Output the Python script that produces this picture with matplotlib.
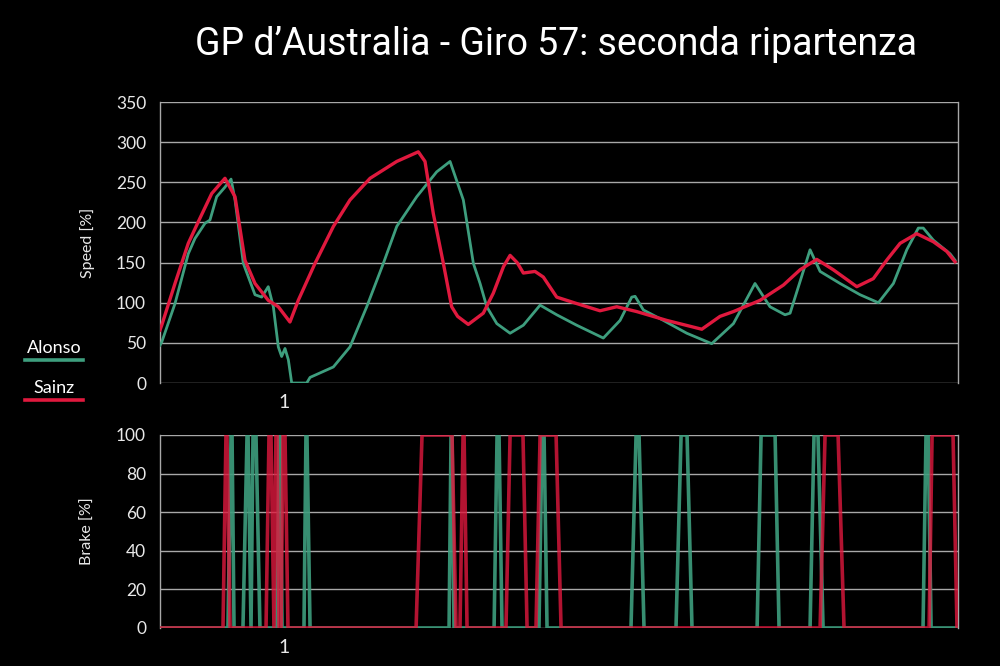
import matplotlib
matplotlib.use("Agg")
import matplotlib.pyplot as plt
from matplotlib.lines import Line2D

# ---------------- data ----------------
title = "GP d\u2019Australia - Giro 57: seconda ripartenza"
drivers = ["Alonso", "Sainz"]
colors = {"Alonso": "#3e9e7e", "Sainz": "#e0193e"}

# distance (lap units) and speed
sainz_x = [0.0, 0.014, 0.121, 0.228, 0.309, 0.417, 0.524, 0.605, 0.685, 0.766, 0.873, 0.954,
           1.048, 1.115, 1.250, 1.398, 1.532, 1.694, 1.909, 2.083, 2.137, 2.204, 2.285, 2.352,
           2.400, 2.486, 2.607, 2.688, 2.770, 2.823, 2.880, 2.930, 3.024, 3.091, 3.199, 3.360,
           3.548, 3.683, 3.844, 4.086, 4.369, 4.516, 4.624, 4.839, 5.027, 5.161, 5.296, 5.430,
           5.619, 5.752, 5.860, 5.968, 6.102, 6.236, 6.344, 6.411]
sainz_v = [66, 72, 124, 174, 201, 236, 255, 232, 153, 124, 103, 95,
           76, 103, 149, 195, 228, 255, 276, 288, 276, 211, 149, 95,
           83, 73, 87, 112, 145, 159, 150, 137, 139, 132, 107, 99,
           90, 95, 89, 78, 67, 83, 89, 103, 122, 141, 154, 141,
           120, 130, 153, 174, 186, 176, 164, 151]

alonso_x = [0.0, 0.014, 0.121, 0.228, 0.282, 0.363, 0.403, 0.457, 0.524, 0.573, 0.605, 0.672,
            0.766, 0.820, 0.873, 0.914, 0.954, 0.981, 1.008, 1.035, 1.062, 1.183, 1.210, 1.398,
            1.532, 1.667, 1.801, 1.909, 2.070, 2.231, 2.339, 2.446, 2.527, 2.581, 2.635, 2.716,
            2.823, 2.930, 3.065, 3.199, 3.360, 3.575, 3.710, 3.804, 3.831, 3.898, 4.059, 4.248,
            4.449, 4.624, 4.798, 4.919, 5.040, 5.081, 5.242, 5.323, 5.484, 5.645, 5.793, 5.914,
            6.022, 6.115, 6.155, 6.236, 6.371, 6.411]
alonso_v = [47, 51, 99, 161, 180, 199, 203, 232, 244, 254, 228, 149,
            110, 107, 120, 95, 45, 33, 43, 29, 0, 0, 7, 20,
            45, 95, 149, 195, 232, 263, 276, 228, 149, 124, 95, 74,
            62, 72, 97, 85, 72, 56, 78, 107, 108, 91, 78, 62,
            49, 74, 124, 95, 85, 87, 166, 139, 124, 110, 100, 124,
            166, 193, 193, 178, 161, 153]

# brake applications: (start rising, full, start releasing, released)
sainz_brake = [(0.508, 0.532, 0.540, 0.565), (0.855, 0.879, 0.895, 0.919),
               (0.919, 0.935, 0.944, 0.960), (0.976, 0.992, 1.008, 1.032),
               (2.065, 2.113, 2.355, 2.387), (2.419, 2.444, 2.452, 2.476),
               (2.790, 2.823, 2.927, 2.960), (3.032, 3.065, 3.194, 3.234),
               (5.323, 5.363, 5.468, 5.516), (6.202, 6.226, 6.395, 6.427)]
alonso_brake = [(0.548, 0.573, 0.581, 0.597), (0.669, 0.702, 0.710, 0.734),
                (0.734, 0.750, 0.774, 0.806), (0.944, 0.960, 0.968, 0.984),
                (1.161, 1.177, 1.185, 1.210), (2.331, 2.347, 2.355, 2.371),
                (2.694, 2.718, 2.734, 2.758), (3.056, 3.081, 3.097, 3.121),
                (3.798, 3.839, 3.863, 3.903), (4.161, 4.202, 4.250, 4.290),
                (4.815, 4.847, 4.960, 4.992), (5.242, 5.274, 5.306, 5.347),
                (6.153, 6.177, 6.194, 6.218)]

speed_ticks = [0, 50, 100, 150, 200, 250, 300, 350]
brake_ticks = [0, 20, 40, 60, 80, 100]
x_ticks = [1]
x_ticklabels = ["1"]
x_max = 6.435


def brake_series(events, x_end):
    xs, ys = [0.0], [0]
    for a, b, c, d in events:
        xs += [a, b, c, d]
        ys += [0, 100, 100, 0]
    xs.append(x_end)
    ys.append(0)
    return xs, ys


# ---------------- figure ----------------
BG = "black"
GRID = "#a8a8a8"
TXT = "#e8e8e8"
FONT = ["Lato", "DejaVu Sans"]
plt.rcParams["font.family"] = FONT

fig = plt.figure(figsize=(10, 6.66), dpi=100, facecolor=BG)
ax1 = fig.add_axes([0.16, 0.4249, 0.798, 0.4219], facecolor=BG)
ax2 = fig.add_axes([0.16, 0.0571, 0.798, 0.2898], facecolor=BG)

# speed
ax1.plot(alonso_x, alonso_v, color=colors["Alonso"], lw=2.0, zorder=3)
ax1.plot(sainz_x, sainz_v, color=colors["Sainz"], lw=2.4, zorder=4)
ax1.set_ylim(0, 350)
ax1.set_yticks(speed_ticks)
ax1.set_ylabel("Speed [%]", color=TXT, fontsize=11.5)

# brake
bx, by = brake_series(alonso_brake, x_max)
ax2.plot(bx, by, color=colors["Alonso"], lw=2.6, alpha=0.9, zorder=3)
bx, by = brake_series(sainz_brake, x_max)
ax2.plot(bx, by, color=colors["Sainz"], lw=2.6, alpha=0.8, zorder=4)
ax2.set_ylim(0, 100)
ax2.set_yticks(brake_ticks)
ax2.set_ylabel("Brake [%]", color=TXT, fontsize=11.5)

for ax in (ax1, ax2):
    ax.set_xlim(0, x_max)
    ax.set_xticks(x_ticks)
    ax.set_xticklabels(x_ticklabels)
    ax.yaxis.set_label_coords(-0.081, 0.5)
    ax.grid(axis="y", color=GRID, lw=1.0, zorder=1)
    ax.tick_params(axis="y", length=0, colors=TXT, labelsize=12.5, pad=10)
    ax.tick_params(axis="x", length=0, colors=TXT, labelsize=14, pad=8)
    for s in ("top", "bottom"):
        ax.spines[s].set_visible(False)
    for s in ("left", "right"):
        ax.spines[s].set_color(GRID)
        ax.spines[s].set_linewidth(1.0)

fig.text(0.556, 0.933, title, color="white", fontsize=27, ha="center", va="center",
         family=["Roboto", "DejaVu Sans"])

# legend
for i, name in enumerate(drivers):
    ty = 0.478 - i * 0.06
    fig.text(0.054, ty, name, color="white", fontsize=13, ha="center", va="center")
    fig.add_artist(Line2D([0.025, 0.083], [ty - 0.019, ty - 0.019], color=colors[name],
                          lw=2.6, transform=fig.transFigure))

fig.savefig("out.png", dpi=100, facecolor=BG)
